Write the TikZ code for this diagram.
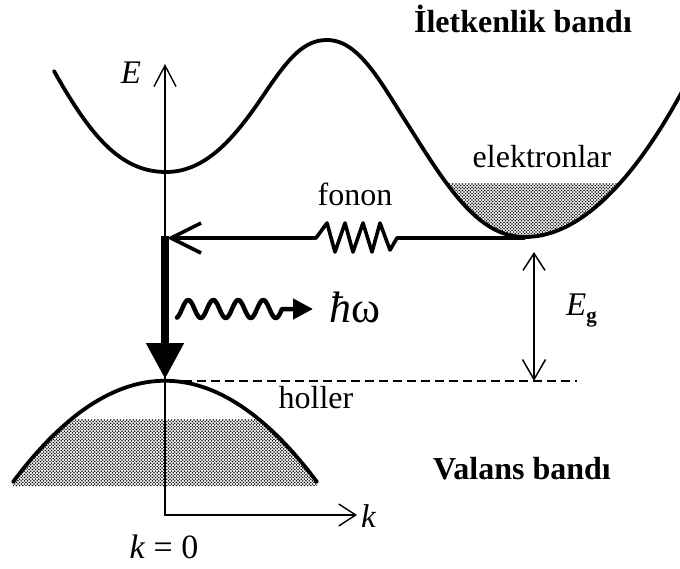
\documentclass[tikz,border=0pt]{standalone}
\usepackage{fontspec}
\setmainfont{Liberation Serif}
\usetikzlibrary{arrows.meta}
\begin{document}
\begin{tikzpicture}[x=1pt,y=-1pt,
  band/.style={line width=3.8pt, line cap=round},
  axis/.style={line width=1.4pt},
  lbl/.style={font=\fontsize{32}{38}\selectfont, inner sep=0pt, anchor=base},
  boldlbl/.style={font=\fontsize{32}{38}\selectfont\bfseries, inner sep=0pt, anchor=base},
  dot/.style={fill=black}]
\useasboundingbox (0,0) rectangle (680,568);
% coordinates
\coordinate (origin) at (165,515);
\coordinate (Etop) at (165,64);
\coordinate (ktip) at (357,515);
\coordinate (cbmin) at (525,238);
\coordinate (phtip) at (167,238);
\coordinate (barstart) at (165,236);
\coordinate (vbtop) at (165,379);
\coordinate (egtop) at (534,252);
\coordinate (egbot) at (534,381);
\coordinate (dashL) at (183,381);
\coordinate (dashR) at (577,381);
\coordinate (wavetip) at (313,309);
% electron shading
\begin{scope}
\clip (54,71) .. controls (90,135) and (120,172) .. (166,172)
 .. controls (210,172) and (240,130) .. (267,90)
 .. controls (290,56) and (305,40) .. (327,40)
 .. controls (360,40) and (382,85) .. (410,128)
 .. controls (450,192) and (480,237) .. (525,237)
 .. controls (585,237) and (640,170) .. (684,88) -- (684,0) -- (54,0) -- cycle;
\foreach \j in {0,...,18} {
  \fill[dot] foreach \i in {0,...,62} {
   ({440+3.2*\i},{184+3.2*\j}) circle (0.85) ({441.6+3.2*\i},{185.6+3.2*\j}) circle (0.85) };
}
\end{scope}
% hole shading
\begin{scope}
\clip (13,482) .. controls (114,347) and (216,347) .. (317,482) -- (317,486) -- (13,486) -- cycle;
\foreach \j in {0,...,20} {
  \fill[dot] foreach \i in {0,...,100} {
   ({2+3.2*\i},{420+3.2*\j}) circle (0.85) ({3.6+3.2*\i},{421.6+3.2*\j}) circle (0.85) };
}
\end{scope}
% bands
\draw[band] (54,71) .. controls (90,135) and (120,172) .. (166,172)
 .. controls (210,172) and (240,130) .. (267,90)
 .. controls (290,56) and (305,40) .. (327,40)
 .. controls (360,40) and (382,85) .. (410,128)
 .. controls (450,192) and (480,237) .. (525,237)
 .. controls (585,237) and (640,170) .. (684,88);
\draw[band] (13,482) .. controls (114,347) and (216,347) .. (317,482);
% axes
\draw[axis, {Straight Barb[length=21pt,width=22pt]}-{Straight Barb[length=17pt,width=22pt]}] (Etop) -- (origin) -- (ktip);
% phonon arrow
\draw[line width=3.6pt, line join=round, -{Straight Barb[length=30pt,width=30pt]}]
 (cbmin) -- (397,238) -- (390,250) -- (380,223) -- (372,252) -- (363,223) -- (353,252)
 -- (345,223) -- (335,252) -- (327,223) -- (316,238) -- (phtip);
% thick recombination arrow
\draw[line width=8pt, -{Triangle[length=36pt,width=36pt]}] (barstart) -- (vbtop);
% photon
\draw[line width=4.5pt, line cap=round, line join=round, -{Triangle[length=20pt,width=20pt]}]
 plot[domain=-0.2:4, samples=120] ({182+25*\x},{309-9*sin(360*\x)}) -- (wavetip);
% gap arrow
\draw[line width=1.5pt, {Straight Barb[length=17pt,width=22pt]}-{Straight Barb[length=20pt,width=23pt]}] (egtop) -- (egbot);
\draw[line width=1.5pt, dash pattern=on 9pt off 5pt] (dashL) -- (dashR);
% labels
\node[boldlbl] (tcb) at (523,32) {İletkenlik bandı};
\node[boldlbl] (tvb) at (522,479) {Valans bandı};
\node[lbl] (tel) at (542,167) {elektronlar};
\node[lbl] (tfon) at (355,205) {fonon};
\node[lbl] (thol) at (316,408) {holler};
\node[lbl, font=\fontsize{33}{38}\selectfont\itshape] (tE) at (131,83) {E};
\node[lbl, anchor=base west] (tEg) at (566,315) {\fontsize{33}{38}\selectfont\itshape E\upshape\raisebox{-7pt}{\fontsize{21}{24}\selectfont\bfseries g}};
\node[lbl, anchor=base west, font=\fontsize{33}{38}\selectfont\itshape] (tk) at (361,527) {k};
\node[lbl, font=\fontsize{34}{40}\selectfont] (tk0) at (164,558) {\textit{k} = 0};
\node[lbl, anchor=base west, font=\fontsize{44}{50}\selectfont] (thw) at (329,322) {\itshape ħ\upshape ω};
\end{tikzpicture}
\end{document}
